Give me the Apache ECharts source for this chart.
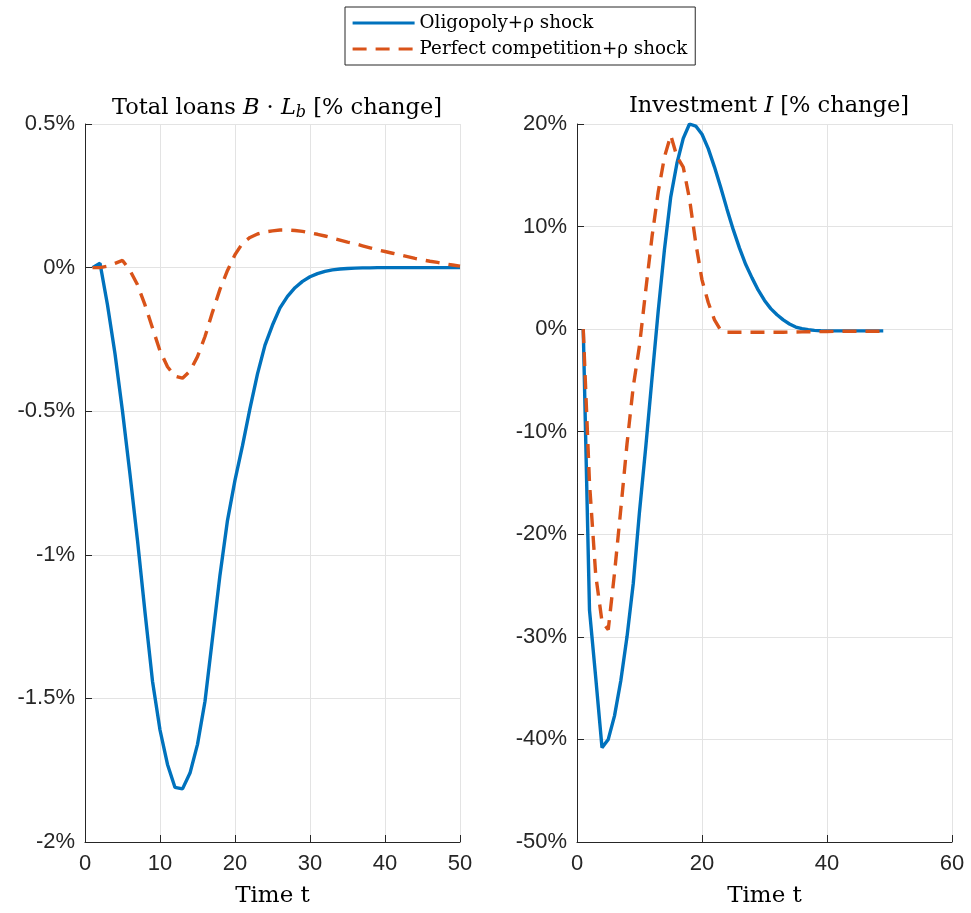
<!DOCTYPE html>
<html>
<head>
<meta charset="utf-8">
<script src="https://cdn.jsdelivr.net/npm/echarts@6/dist/echarts.min.js"></script>
<style>
html, body { margin: 0; padding: 0; background: #fff; }
#chart { width: 971px; height: 913px; }
</style>
</head>
<body>
<div id="chart"></div>
<script>
// series names
const seriesNames = ['Oligopoly+ρ shock', 'Perfect competition+ρ shock'];

// total loans, % change, t = 1..50
const loansOligopoly = [
  0, 0.015, -0.13, -0.30, -0.50, -0.72, -0.95, -1.20, -1.44, -1.61,
  -1.73, -1.81, -1.815, -1.76, -1.66, -1.51, -1.29, -1.07, -0.88, -0.74,
  -0.62, -0.49, -0.37, -0.27, -0.20, -0.14, -0.10, -0.07, -0.048, -0.032,
  -0.021, -0.013, -0.008, -0.005, -0.003, -0.002, -0.001, -0.001, 0, 0,
  0, 0, 0, 0, 0, 0, 0, 0, 0, 0
];
const loansPerfect = [
  0, 0, 0.005, 0.015, 0.025, -0.01, -0.06, -0.13, -0.21, -0.29,
  -0.345, -0.378, -0.385, -0.36, -0.31, -0.24, -0.155, -0.075, -0.01, 0.045,
  0.085, 0.105, 0.117, 0.124, 0.128, 0.131, 0.131, 0.129, 0.126, 0.121,
  0.116, 0.11, 0.103, 0.096, 0.089, 0.083, 0.076, 0.069, 0.062, 0.056,
  0.05, 0.044, 0.038, 0.032, 0.027, 0.022, 0.018, 0.013, 0.009, 0.005
];

// investment, % change, t = 1..49
const investOligopoly = [
  0, -27.4, -34, -40.8, -40, -37.7, -34.3, -30, -24.8, -17.8,
  -11.5, -4.8, 1.8, 7.8, 12.9, 16.2, 18.6, 20.0, 19.8, 19.0,
  17.6, 15.8, 13.8, 11.7, 9.7, 7.9, 6.3, 5.0, 3.8, 2.8,
  2.0, 1.4, 0.9, 0.5, 0.2, 0.05, -0.06, -0.12, -0.15, -0.17,
  -0.17, -0.17, -0.17, -0.17, -0.17, -0.17, -0.17, -0.17, -0.17
];
const investPerfect = [
  0, -15, -24, -28.5, -29.3, -23.8, -17.6, -11.2, -5.6, -1.6,
  3.8, 9.0, 13.4, 16.8, 18.9, 16.8, 15.8, 12.7, 8.4, 4.8,
  2.6, 0.9, -0.1, -0.3, -0.3, -0.3, -0.3, -0.3, -0.3, -0.3,
  -0.3, -0.3, -0.3, -0.28, -0.28, -0.27, -0.26, -0.25, -0.24, -0.23,
  -0.22, -0.21, -0.2, -0.2, -0.2, -0.2, -0.2, -0.2, -0.2
];

const blue = '#0072BD';
const orange = '#D95319';
const axisColor = '#262626';
const gridColor = '#e3e3e3';
const serif = '"DejaVu Serif", "Liberation Serif", serif';
const sans = '"Liberation Sans", Arial, sans-serif';

// pair each value with its time step (t starts at 1)
const withTime = (arr) => arr.map((v, i) => [i + 1, v]);

const xAxisBase = (max, interval, gridIndex) => ({
  type: 'value',
  gridIndex,
  min: 0,
  max,
  interval,
  name: 'Time t',
  nameLocation: 'middle',
  nameGap: 43,
  nameTextStyle: { fontFamily: serif, fontSize: 23, color: '#000' },
  axisLine: { show: true, onZero: false, lineStyle: { color: axisColor, width: 1 } },
  axisTick: { show: true, inside: true, length: 7, lineStyle: { color: axisColor } },
  axisLabel: { fontFamily: sans, fontSize: 22, color: axisColor, margin: 11 },
  splitLine: { show: true, lineStyle: { color: gridColor, width: 1 } },
});

const yAxisBase = (min, max, interval, gridIndex) => ({
  type: 'value',
  gridIndex,
  min,
  max,
  interval,
  axisLine: { show: true, onZero: false, lineStyle: { color: axisColor, width: 1 } },
  axisTick: { show: true, inside: true, length: 7, lineStyle: { color: axisColor } },
  axisLabel: {
    fontFamily: sans, fontSize: 22, color: axisColor, margin: 10,
    padding: [4, 0, 0, 0],
    formatter: (v) => Math.round(v * 100) / 100 + '%',
  },
  splitLine: { show: true, lineStyle: { color: gridColor, width: 1 } },
});

const lineSeries = (name, data, idx, dashed) => ({
  name,
  type: 'line',
  xAxisIndex: idx,
  yAxisIndex: idx,
  data,
  symbol: 'none',
  silent: true,
  animation: false,
  z: dashed ? 3 : 2,
  lineStyle: {
    color: dashed ? orange : blue,
    width: 3.4,
    type: dashed ? [14, 9] : 'solid',
  },
  itemStyle: { color: dashed ? orange : blue },
});

const chart = echarts.init(document.getElementById('chart'));
chart.setOption({
  backgroundColor: '#fff',
  animation: false,
  title: [
    {
      text: 'Total loans {i|B} · {i|L}{s|b} [% change]',
      left: 272,
      top: 90,
      textAlign: 'center',
      textStyle: {
        fontFamily: serif, fontSize: 22.5, fontWeight: 'normal', color: '#000',
        rich: {
          i: { fontFamily: serif, fontSize: 22.5, fontStyle: 'italic', color: '#000' },
          s: { fontFamily: serif, fontSize: 16, fontStyle: 'italic', color: '#000', padding: [10, 0, 0, 0] },
        },
      },
    },
    {
      text: 'Investment {i|I} [% change]',
      left: 764,
      top: 90,
      textAlign: 'center',
      textStyle: {
        fontFamily: serif, fontSize: 22.5, fontWeight: 'normal', color: '#000',
        rich: {
          i: { fontFamily: serif, fontSize: 22.5, fontStyle: 'italic', color: '#000' },
        },
      },
    },
  ],
  legend: {
    data: seriesNames,
    orient: 'vertical',
    left: 345,
    top: 7,
    padding: [7, 8, 7, 6],
    itemWidth: 62,
    itemHeight: 14,
    itemGap: 8,
    borderColor: axisColor,
    borderWidth: 1,
    backgroundColor: '#fff',
    itemStyle: { opacity: 0 },
    lineStyle: { width: 3.2 },
    textStyle: { fontFamily: serif, fontSize: 18.3, color: '#000' },
  },
  grid: [
    { left: 85, top: 124, width: 375, height: 718 },
    { left: 577, top: 124, width: 375, height: 718 },
  ],
  xAxis: [xAxisBase(50, 10, 0), xAxisBase(60, 20, 1)],
  yAxis: [yAxisBase(-2, 0.5, 0.5, 0), yAxisBase(-50, 20, 10, 1)],
  series: [
    lineSeries(seriesNames[0], withTime(loansOligopoly), 0, false),
    lineSeries(seriesNames[1], withTime(loansPerfect), 0, true),
    lineSeries(seriesNames[0], withTime(investOligopoly), 1, false),
    lineSeries(seriesNames[1], withTime(investPerfect), 1, true),
  ],
});
</script>
</body>
</html>
